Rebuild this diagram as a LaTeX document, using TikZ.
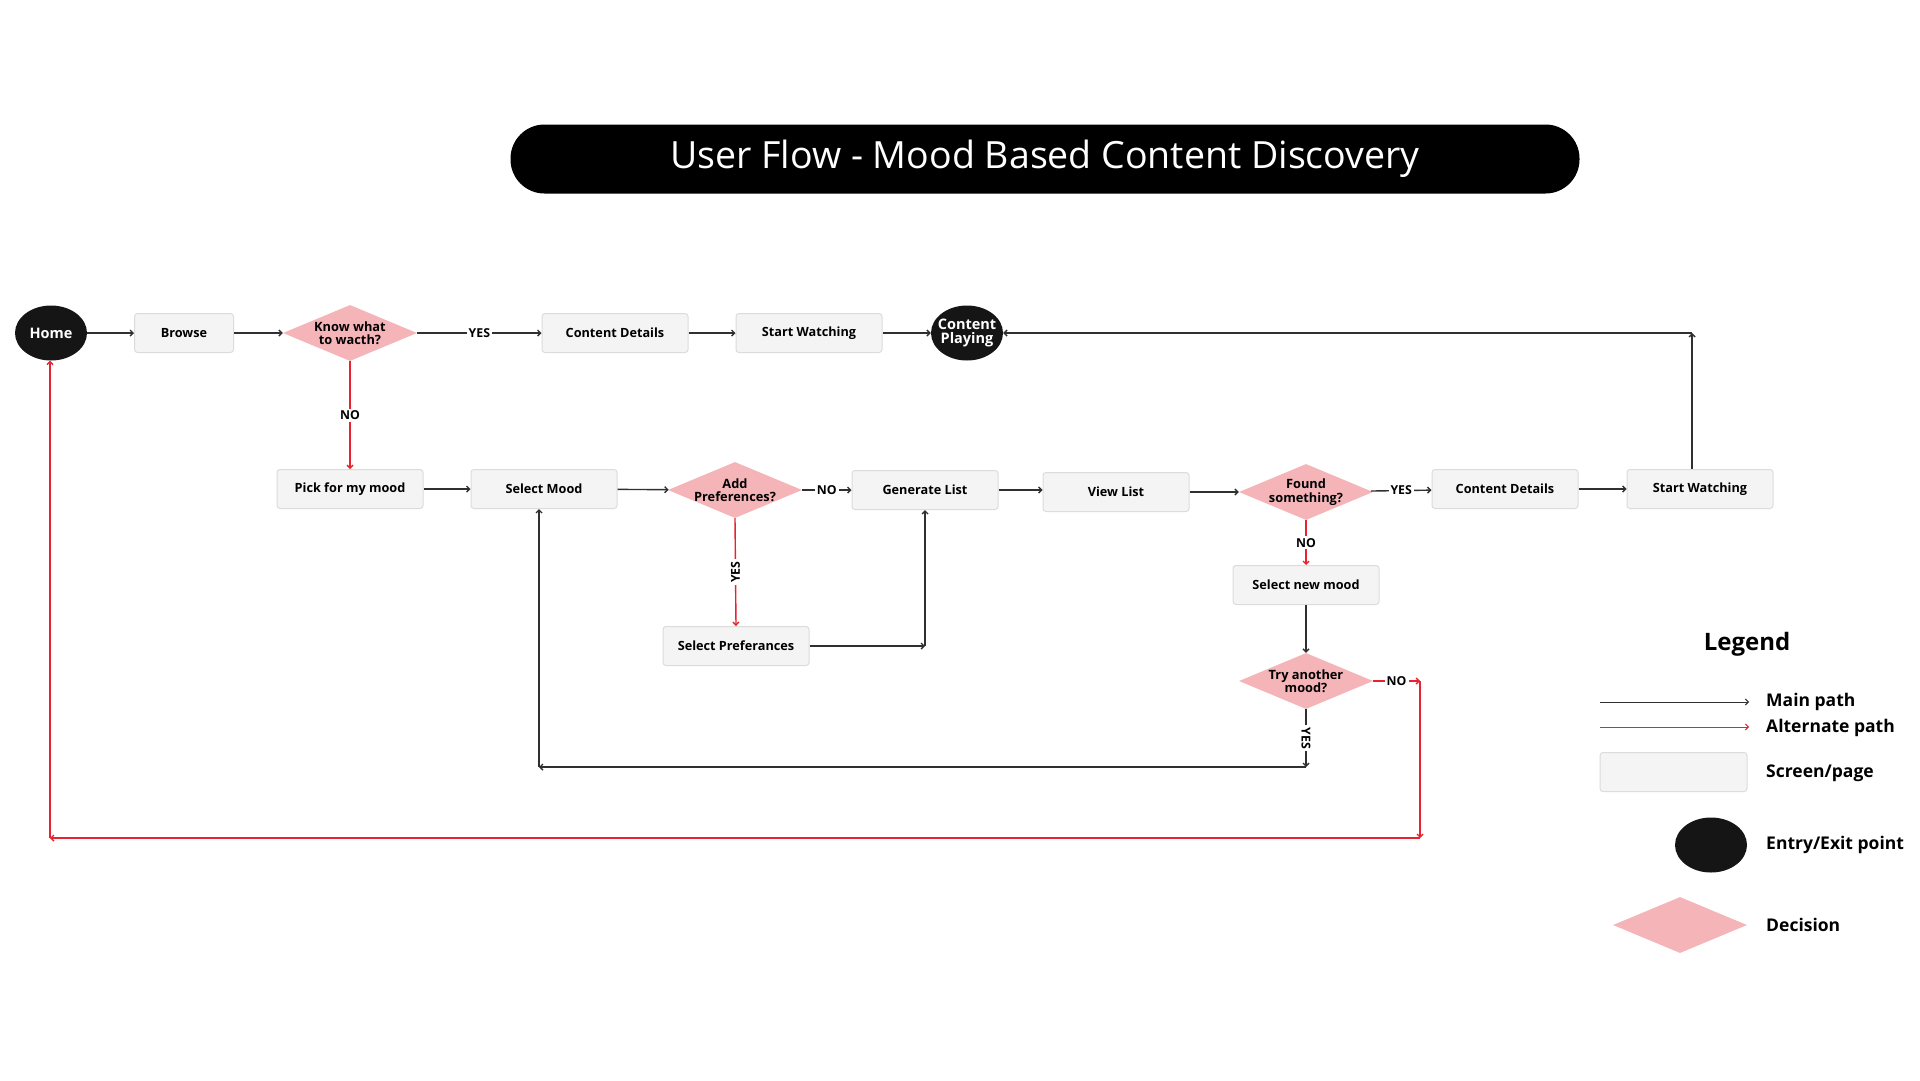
\documentclass[tikz,border=0pt]{standalone}
\usepackage{fontspec}
\setmainfont{Open Sans}
\usetikzlibrary{shapes.geometric,arrows.meta}

\definecolor{screenfill}{HTML}{F4F4F4}
\definecolor{screenline}{HTML}{DCDCDC}
\definecolor{decisionfill}{HTML}{F4B4B8}
\definecolor{altred}{HTML}{E8232F}
\definecolor{mainline}{HTML}{303030}
\definecolor{entryfill}{HTML}{151515}

\tikzset{
	screen/.style={draw=screenline, fill=screenfill, line width=1pt, rounded corners=3pt, minimum width=146pt, minimum height=39pt, inner sep=0pt, font=\fontsize{12.7}{13}\selectfont\bfseries},
	decision/.style={diamond, fill=decisionfill, aspect=2.4, minimum width=134pt, minimum height=56pt, inner sep=-10pt, align=center, font=\fontsize{12.8}{13.5}\selectfont\bfseries},
	entry/.style={ellipse, fill=entryfill, text=white, minimum width=72pt, minimum height=55pt, inner sep=-4pt, align=center, font=\fontsize{14.5}{14}\selectfont\bfseries},
	mainpath/.style={draw=mainline, line width=1.4pt, -{Straight Barb[length=3pt,width=6pt]}},
	altpath/.style={draw=altred, line width=1.4pt, -{Straight Barb[length=3pt,width=6pt]}},
	pathlabel/.style={fill=white, text=black, inner sep=2pt, font=\fontsize{12.3}{12}\selectfont\bfseries},
	legendtext/.style={anchor=west, inner sep=0pt, font=\fontsize{17.5}{18}\selectfont\bfseries},
}

\begin{document}
\begin{tikzpicture}[x=1pt, y=-1pt]
			%%%%% START %%%%%
			\useasboundingbox[fill=white] (0, 0) rectangle (1920, 1080);
			
			% title
			\node[fill=black, text=white, rounded corners=34pt, minimum width=1069pt, minimum height=69pt, font=\fontsize{37.5}{38}\selectfont] (title) at (1045, 159) {User Flow - Mood Based Content Discovery};
			
			% top row
			\node[entry] (home) at (51, 333) {Home};
			\node[screen, minimum width=99pt] (browse) at (184, 333) {Browse};
			\node[decision] (knowwhat) at (350, 333) {Know what\\to wacth?};
			\node[screen] (details1) at (615, 333) {Content Details};
			\node[screen] (watch1) at (809, 333) {Start Watching};
			\node[entry] (playing) at (967, 333) {Content\\Playing};
			
			% mood row
			\node[screen] (pickmood) at (350, 489) {Pick for my mood};
			\node[screen] (selmood) at (544, 489) {Select Mood};
			\node[decision] (addpref) at (735, 490) {Add\\Preferences?};
			\node[screen] (genlist) at (925, 490) {Generate List};
			\node[screen] (viewlist) at (1116, 492) {View List};
			\node[decision] (found) at (1306, 492) {Found\\something?};
			\node[screen] (details2) at (1505, 489) {Content Details};
			\node[screen] (watch2) at (1700, 489) {Start Watching};
			
			\node[screen] (selpref) at (736, 646) {Select Preferances};
			\node[screen] (newmood) at (1306, 585) {Select new mood};
			\node[decision] (another) at (1306, 681) {Try another\\mood?};
			
			% main path
			\draw[mainpath] (home) -- (browse);
			\draw[mainpath] (browse) -- (knowwhat);
			\draw[mainpath] (knowwhat) -- node[pathlabel] (yes1) {YES} (details1);
			\draw[mainpath] (details1) -- (watch1);
			\draw[mainpath] (watch1) -- (playing);
			
			\draw[mainpath] (pickmood) -- (selmood);
			\draw[mainpath] (selmood) -- (addpref);
			\draw[mainpath] (addpref) -- node[pathlabel] (no2) {NO} (genlist);
			\draw[mainpath] (genlist.east) -- (viewlist.west |- genlist.east);
			\draw[mainpath] (viewlist.east) -- (found.west |- viewlist.east);
			\draw[mainpath] (found) -- node[pathlabel] (yes3) {YES} (details2);
			\draw[mainpath] (details2) -- (watch2);
			
			\coordinate (backup) at (1692, 333);
			\draw[mainpath] (backup |- watch2.north) -- (backup);
			\draw[mainpath] (backup) -- (playing.east);
			
			\coordinate (prefcorner) at (genlist.south |- selpref.east);
			\draw[mainpath] (selpref.east) -- (prefcorner);
			\draw[mainpath] (prefcorner) -- (genlist.south);
			
			\draw[mainpath] (newmood) -- (another);
			
			\coordinate (yesdown) at (1306, 767);
			\coordinate (yescorner) at (539, 767);
			\draw[mainpath] (another.south) -- node[pathlabel, rotate=-90] (yes4) {YES} (yesdown);
			\draw[mainpath] (yesdown) -- (yescorner);
			\draw[mainpath] (yescorner) -- (selmood.south -| yescorner);
			
			% alternate path
			\draw[altpath] (knowwhat.south) -- node[pathlabel] (no1) {NO} (pickmood.north);
			\draw[altpath] (addpref.south) -- node[pathlabel, rotate=90] (yes2) {YES} (selpref.north);
			\draw[altpath] (found.south) -- node[pathlabel] (no3) {NO} (newmood.north);
			
			\coordinate (noright) at (1420, 681);
			\coordinate (nodown) at (1420, 838);
			\coordinate (noleft) at (50, 838);
			\draw[altpath] (another.east) -- node[pathlabel] (no4) {NO} (noright);
			\draw[altpath] (noright) -- (nodown);
			\draw[altpath] (nodown) -- (noleft);
			\draw[altpath] (noleft) -- (home.south -| noleft);
			
			% legend
			\node[font=\fontsize{24}{26}\selectfont\bfseries] (legend) at (1747, 644) {Legend};
			\coordinate (mainA) at (1600, 702);
			\coordinate (mainB) at (1749, 702);
			\draw[mainpath, line width=1pt] (mainA) -- (mainB);
			\node[legendtext] (mainlbl) at (1766, 702) {Main path};
			\coordinate (altA) at (1600, 727);
			\coordinate (altB) at (1749, 727);
			\draw[altpath, line width=1pt] (altA) -- (altB);
			\node[legendtext] (altlbl) at (1766, 728) {Alternate path};
			\node[screen, minimum width=147pt] (legscreen) at (1673.5, 772) {};
			\node[legendtext] (screenlbl) at (1766, 773) {Screen/page};
			\node[entry] (legentry) at (1711, 845) {};
			\node[legendtext] (entrylbl) at (1766, 845) {Entry/Exit point};
			\node[decision] (legdecision) at (1680, 925) {};
			\node[legendtext] (decisionlbl) at (1766, 925) {Decision};
			
			%%%%% END %%%%%
\end{tikzpicture}
\end{document}
